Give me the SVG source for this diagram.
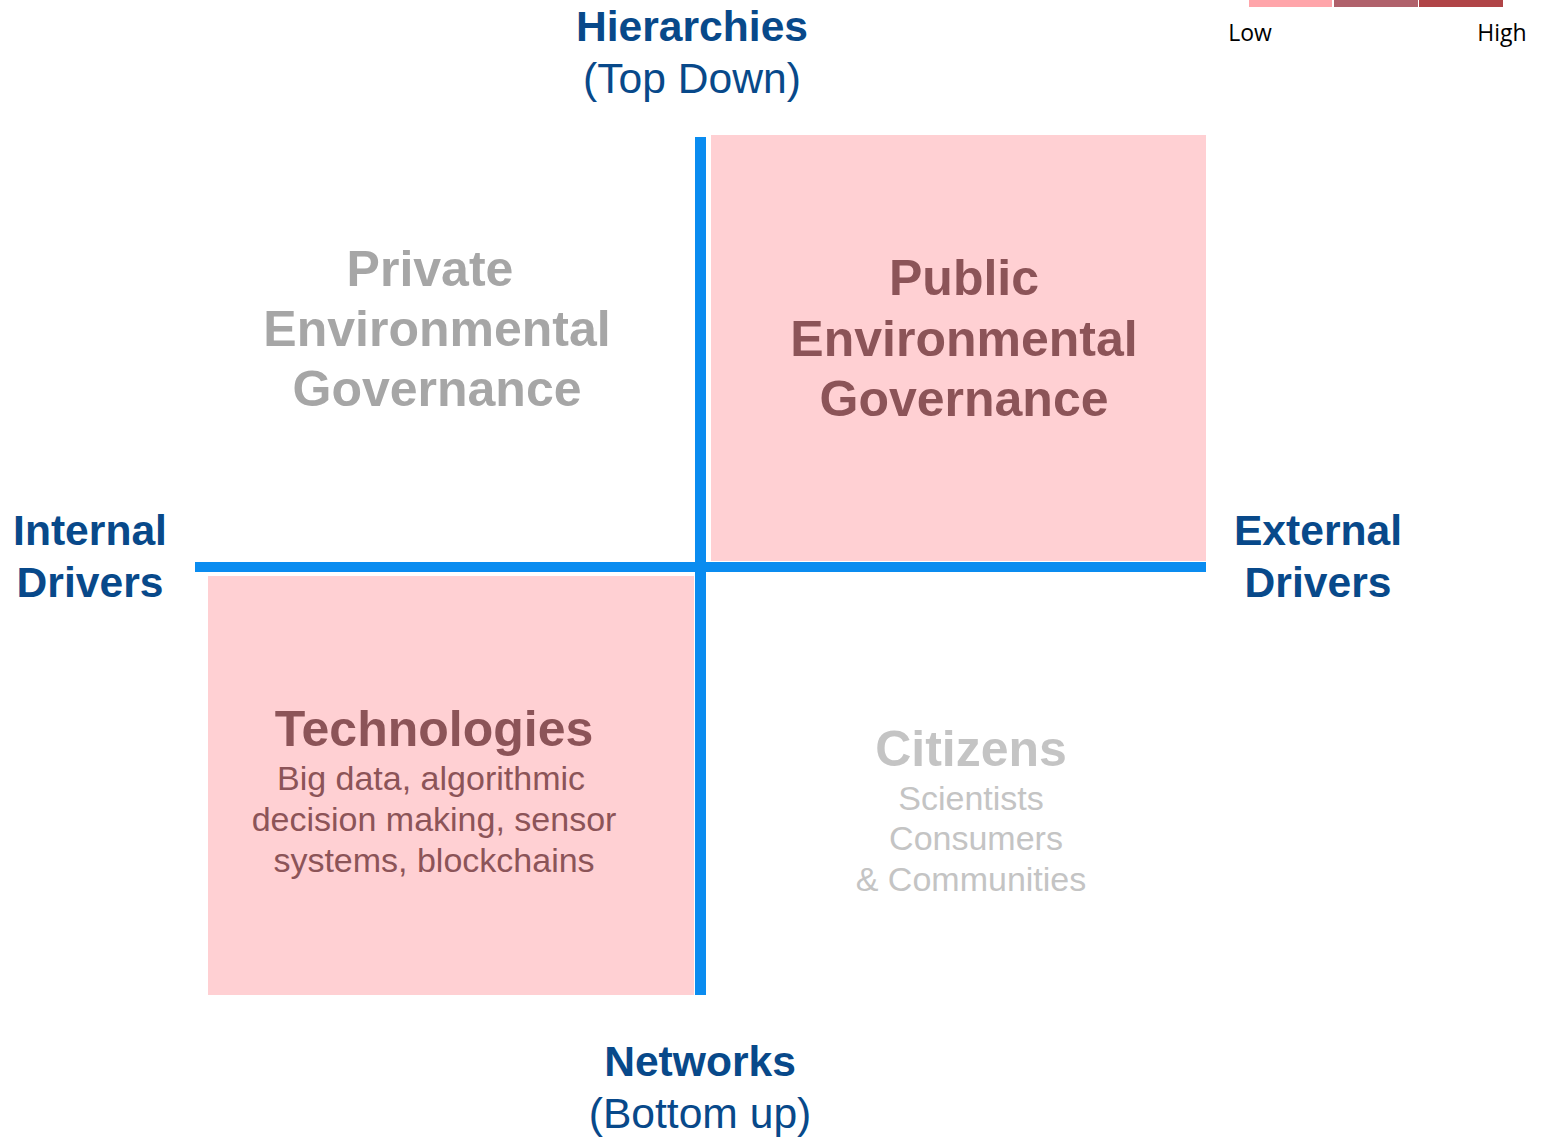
<svg xmlns="http://www.w3.org/2000/svg" width="1544" height="1137" viewBox="0 0 1544 1137">
  <style>
    text { font-family: "Liberation Sans", Arial, sans-serif; text-anchor: middle; }
    .axis { fill: #08498A; font-size: 42.6px; }
    .b { font-weight: bold; }
    .cell { fill: #FFD0D3; }
    .line { fill: #0A8CF0; }
    .title { font-size: 50px; font-weight: bold; }
    .sub { font-size: 34px; }
    .strong { fill: #8C5458; }
    .muted { fill: #A6A6A6; }
    .faint { fill: #C4C4C4; }
    .legend { font-family: "Open Sans", "Liberation Sans", sans-serif; font-size: 23px; fill: #000; }
  </style>

  <!-- intensity scale -->
  <g id="legend">
    <rect x="1249" y="0" width="83" height="7" fill="#FFA5AA"/>
    <rect x="1334" y="0" width="84" height="7" fill="#B0616B"/>
    <rect x="1419" y="0" width="84" height="7" fill="#B04447"/>
    <text class="legend" x="1250" y="41">Low</text>
    <text class="legend" x="1502" y="41">High</text>
  </g>

  <!-- highlighted quadrants -->
  <g id="quadrant-public">
    <rect class="cell" x="711" y="135" width="495" height="426"/>
    <text class="title strong" x="964" y="295">Public</text>
    <text class="title strong" x="964" y="356">Environmental</text>
    <text class="title strong" x="964" y="416">Governance</text>
  </g>
  <g id="quadrant-technologies">
    <rect class="cell" x="208" y="576" width="486" height="419"/>
    <text class="title strong" x="434" y="746">Technologies</text>
    <text class="sub strong" x="431" y="790">Big data, algorithmic</text>
    <text class="sub strong" x="434" y="831">decision making, sensor</text>
    <text class="sub strong" x="434" y="872">systems, blockchains</text>
  </g>
  <g id="quadrant-private">
    <text class="title muted" x="430" y="286">Private</text>
    <text class="title muted" x="437" y="346">Environmental</text>
    <text class="title muted" x="437" y="406">Governance</text>
  </g>
  <g id="quadrant-citizens">
    <text class="title faint" x="971" y="766">Citizens</text>
    <text class="sub faint" x="971" y="810">Scientists</text>
    <text class="sub faint" x="976" y="850">Consumers</text>
    <text class="sub faint" x="971" y="891">&amp; Communities</text>
  </g>

  <!-- axes -->
  <g id="connectors">
    <rect class="line" x="195" y="562" width="1011" height="10"/>
    <rect class="line" x="695" y="137" width="11" height="858"/>
  </g>

  <!-- axis labels -->
  <g id="label-top">
    <text class="axis b" x="692" y="41">Hierarchies</text>
    <text class="axis" x="692" y="93">(Top Down)</text>
  </g>
  <g id="label-bottom">
    <text class="axis b" x="700" y="1076">Networks</text>
    <text class="axis" x="700" y="1128">(Bottom up)</text>
  </g>
  <g id="label-left">
    <text class="axis b" x="90" y="545">Internal</text>
    <text class="axis b" x="90" y="597">Drivers</text>
  </g>
  <g id="label-right">
    <text class="axis b" x="1318" y="545">External</text>
    <text class="axis b" x="1318" y="597">Drivers</text>
  </g>
</svg>
